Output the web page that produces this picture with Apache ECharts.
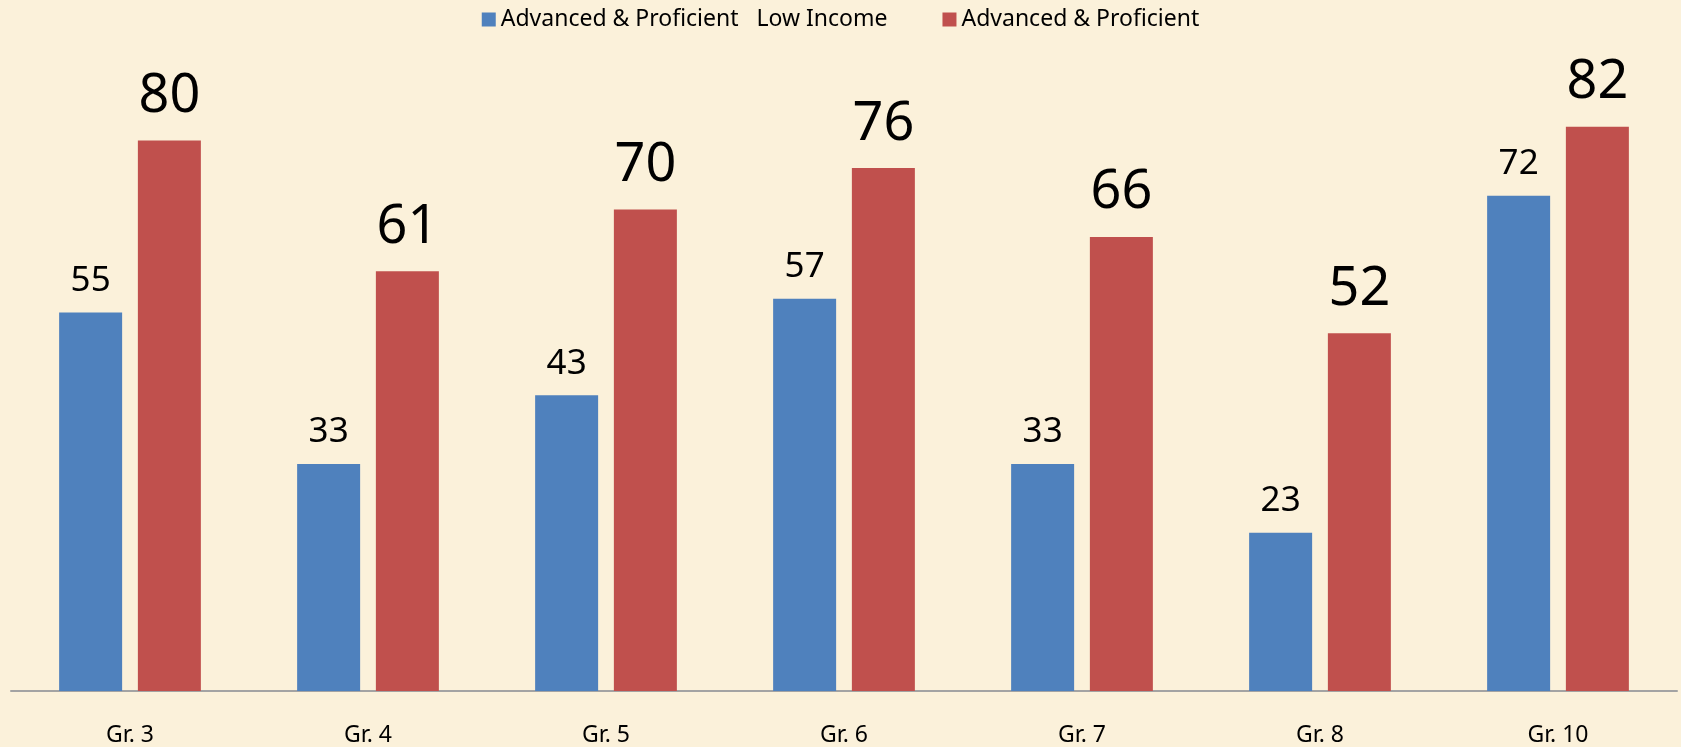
<!DOCTYPE html>
<html>
<head>
<meta charset="utf-8">
<script src="https://cdn.jsdelivr.net/npm/echarts@6/dist/echarts.min.js"></script>
<style>
  html, body { margin: 0; padding: 0; background: #fbf1da; }
  #chart { width: 1681px; height: 747px; }
</style>
</head>
<body>
<div id="chart"></div>
<script>
// grade levels on the x axis
var grades = ['Gr. 3', 'Gr. 4', 'Gr. 5', 'Gr. 6', 'Gr. 7', 'Gr. 8', 'Gr. 10']
// percent advanced & proficient
var lowIncome = [55, 33, 43, 57, 33, 23, 72]
var allStudents = [80, 61, 70, 76, 66, 52, 82]

var seriesNames = ['Advanced & Proficient   Low Income', 'Advanced & Proficient']

var font = 'Noto Sans'
var chart = echarts.init(document.getElementById('chart'))

chart.setOption({
  backgroundColor: '#fbf1da',
  animation: false,
  textStyle: { fontFamily: font },
  legend: {
    data: seriesNames,
    left: 'center',
    top: 8,
    padding: 0,
    itemGap: 55,
    itemWidth: 14,
    itemHeight: 14,
    icon: 'rect',
    textStyle: { fontSize: 23, color: '#000', fontFamily: font }
  },
  grid: {
    left: 11,
    right: 4,
    top: 3,
    bottom: 55,
    containLabel: false
  },
  xAxis: {
    type: 'category',
    data: grades,
    axisLine: { lineStyle: { color: '#a3a3a3', width: 2 } },
    axisTick: { show: false },
    axisLabel: { fontSize: 23, color: '#000', margin: 33, fontFamily: font }
  },
  yAxis: {
    type: 'value',
    min: 0,
    max: 100,
    show: false,
    splitLine: { show: false }
  },
  series: [{
    name: seriesNames[0],
    type: 'bar',
    data: lowIncome,
    barWidth: 63,
    barGap: '25%',
    itemStyle: { color: '#4f81bd' },
    label: {
      show: true,
      position: 'top',
      distance: 14,
      fontSize: 35,
      color: '#000',
      fontFamily: font
    }
  }, {
    name: seriesNames[1],
    type: 'bar',
    data: allStudents,
    barWidth: 63,
    itemStyle: { color: '#c0504d' },
    label: {
      show: true,
      position: 'top',
      distance: 17,
      fontSize: 54,
      color: '#000',
      fontFamily: font
    }
  }]
})
</script>
</body>
</html>
